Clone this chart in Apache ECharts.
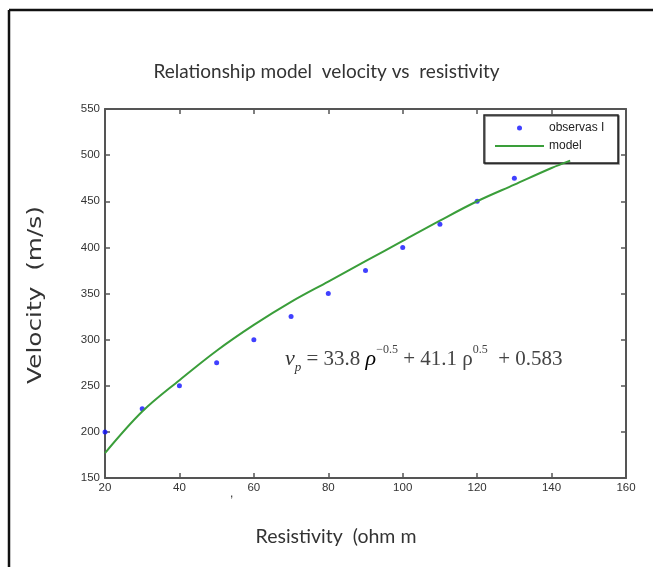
<!DOCTYPE html>
<html>
<head>
<meta charset="utf-8">
<script src="https://cdn.jsdelivr.net/npm/echarts@6/dist/echarts.min.js"></script>
<style>
  html, body { margin: 0; padding: 0; background: #fff; }
  #chart { width: 653px; height: 567px; }
</style>
</head>
<body>
<div id="chart"></div>
<script>
// observed points
const resistivityObs = [20, 30, 40, 50, 60, 70, 80, 90, 100, 110, 120, 130]
const velocityObs = [200, 225, 250, 275, 300, 325, 350, 375, 400, 425, 450, 475]

// fitted model curve
const resistivityModel = [20, 30, 40, 50, 60, 70, 80, 90, 100, 110, 120, 130, 140, 145]
const velocityModel = [177, 222, 256, 288, 316, 341, 363, 385, 407, 429, 450, 468, 486, 494]

const xTicks = [20, 40, 60, 80, 100, 120, 140, 160]
const yTicks = [150, 200, 250, 300, 350, 400, 450, 500, 550]

const seriesNames = ['observas I', 'model']

const axisColor = '#555'
const tickFont = { fontFamily: 'Liberation Sans', fontSize: 11.5, color: '#333' }

const chart = echarts.init(document.getElementById('chart'), null, { renderer: 'canvas' })

const baseX = {
  type: 'value',
  min: xTicks[0],
  max: xTicks[xTicks.length - 1],
  interval: xTicks[1] - xTicks[0],
  axisLine: { show: true, onZero: false, lineStyle: { color: axisColor, width: 2 } },
  axisTick: { show: true, inside: true, length: 5, lineStyle: { color: axisColor, width: 1.5 } },
  splitLine: { show: false },
}
const baseY = {
  type: 'value',
  min: yTicks[0],
  max: yTicks[yTicks.length - 1],
  interval: yTicks[1] - yTicks[0],
  axisLine: { show: true, onZero: false, lineStyle: { color: axisColor, width: 2 } },
  axisTick: { show: true, inside: true, length: 5, lineStyle: { color: axisColor, width: 1.5 } },
  splitLine: { show: false },
}

const option = {
  backgroundColor: '#fff',
  animation: false,
  title: {
    text: 'Relationship model  velocity vs  resistivity',
    left: 'center',
    top: 57,
    textStyle: { fontFamily: 'Lato', fontSize: 19, fontWeight: 'normal', color: '#333' },
  },
  grid: { left: 105, right: 27, top: 109, bottom: 89 },
  xAxis: [
    { ...baseX, position: 'bottom', axisLabel: { ...tickFont, margin: 4 } },
    { ...baseX, position: 'top', axisLabel: { show: false } },
  ],
  yAxis: [
    { ...baseY, position: 'left', axisLabel: { ...tickFont, margin: 5 } },
    { ...baseY, position: 'right', axisLabel: { show: false } },
  ],
  legend: {
    orient: 'vertical',
    left: 494,
    top: 122,
    padding: 0,
    itemWidth: 49,
    itemHeight: 5,
    itemGap: 6,
    data: [
      { name: seriesNames[0], icon: 'circle' },
      { name: seriesNames[1], itemStyle: { opacity: 0 } },
    ],
    textStyle: { fontFamily: 'Liberation Sans', fontSize: 12, color: '#222' },
  },
  series: [
    {
      name: seriesNames[0],
      type: 'scatter',
      symbol: 'circle',
      symbolSize: 5,
      itemStyle: { color: '#1010ff' },
      data: resistivityObs.map((r, i) => [r, velocityObs[i]]),
    },
    {
      name: seriesNames[1],
      type: 'line',
      smooth: 0.35,
      symbol: 'none',
      lineStyle: { color: '#3a9e3a', width: 2 },
      itemStyle: { color: '#3a9e3a' },
      data: resistivityModel.map((r, i) => [r, velocityModel[i]]),
    },
  ],
  graphic: [
    // outer figure frame
    { type: 'line', z: 10, shape: { x1: 9, y1: 10, x2: 9, y2: 567 }, style: { stroke: '#111', lineWidth: 2.5 } },
    { type: 'line', z: 10, shape: { x1: 9, y1: 10, x2: 653, y2: 10 }, style: { stroke: '#111', lineWidth: 2.5 } },
    // legend box
    {
      type: 'rect', z: 3,
      shape: { x: 484, y: 115, width: 134, height: 48 },
      style: { fill: '#fff', stroke: '#222', lineWidth: 1.5, shadowColor: 'rgba(0,0,0,0.5)', shadowOffsetX: 1, shadowOffsetY: 1 },
    },
    // y axis name
    {
      type: 'text', z: 10,
      x: 36, y: 295, rotation: Math.PI / 2, scaleX: 1.24,
      style: { text: 'Velocity  (m/s)', fontFamily: 'DejaVu Sans', fontSize: 20, fill: '#333', align: 'center', verticalAlign: 'middle' },
    },
    // x axis name
    {
      type: 'text', z: 10,
      x: 336, y: 537,
      style: { text: 'Resistivity  (ohm m', fontFamily: 'Lato', fontSize: 19.5, fill: '#333', align: 'center', verticalAlign: 'middle' },
    },
    // stray mark under the axis
    {
      type: 'text', z: 10, x: 230, y: 488,
      style: { text: ',', fontFamily: 'Liberation Sans', fontSize: 12, fill: '#333' },
    },
    // fitted equation
    {
      type: 'text', z: 10,
      x: 285, y: 344,
      style: {
        text: '{v|v}{sub|p}{n| = 33.8 }{rho|ρ}{sup|−0.5}{n| + 41.1 }{n|ρ}{sup|0.5}{n|  + 0.583}',
        fill: '#333',
        rich: {
          v: { fontFamily: 'Liberation Serif', fontStyle: 'italic', fontSize: 22, lineHeight: 30, fill: '#333' },
          sub: { fontFamily: 'Liberation Serif', fontStyle: 'italic', fontSize: 13, lineHeight: 14, verticalAlign: 'bottom', fill: '#333' },
          n: { fontFamily: 'Liberation Serif', fontSize: 21, lineHeight: 30, fill: '#444' },
          rho: { fontFamily: 'Liberation Serif', fontStyle: 'italic', fontSize: 22, lineHeight: 30, fill: '#000' },
          sup: { fontFamily: 'Liberation Serif', fontSize: 12, lineHeight: 14, verticalAlign: 'top', fill: '#444' },
        },
      },
    },
  ],
}

chart.setOption(option)
</script>
</body>
</html>
